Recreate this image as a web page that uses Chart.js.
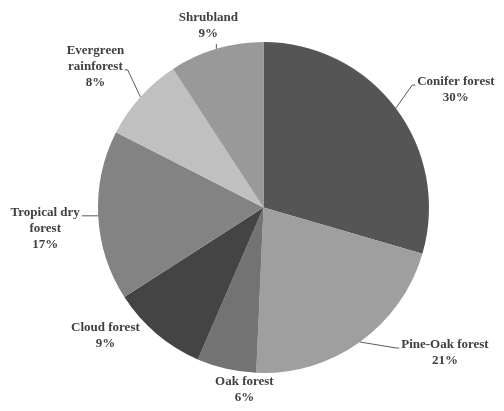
<!DOCTYPE html>
<html>
<head>
<meta charset="utf-8">
<script src="https://cdn.jsdelivr.net/npm/chart.js@4/dist/chart.umd.min.js"></script>
<style>
  html, body { margin: 0; padding: 0; background: #fff; }
  #wrap { width: 504px; height: 411px; }
</style>
</head>
<body>
<div id="wrap"><canvas id="chart" width="504" height="411"></canvas></div>
<script>
// data, clockwise from 12 o'clock (labels show rounded values)
const categories = ['Conifer forest', 'Pine-Oak forest', 'Oak forest', 'Cloud forest', 'Tropical dry forest', 'Evergreen rainforest', 'Shrubland'];
const shares = [29.5, 21.2, 5.8, 9.4, 16.6, 8.3, 9.2];
const labelLines = [
  ['Conifer forest'],
  ['Pine-Oak forest'],
  ['Oak forest'],
  ['Cloud forest'],
  ['Tropical dry', 'forest'],
  ['Evergreen', 'rainforest'],
  ['Shrubland']
];
const sliceColors = ['#555555', '#9f9f9f', '#737373', '#444444', '#838383', '#c0c0c0', '#999999'];

// where each label sits relative to the slice's outer mid point, and how the leader joins it
const labelStyle = [
  { dx: 60, dy: -18, leader: 'left', line: 0 },
  { dx: 85, dy: 11, leader: 'left', line: 0 },
  { dx: 18, dy: 21, leader: null },
  { dx: -51, dy: 2, leader: null },
  { dx: -53, dy: 13, leader: 'right', line: 0 },
  { dx: -45, dy: -30, leader: 'right', line: 1 },
  { dx: -8, dy: -23, leader: 'bottom' }
];

const FONT = 'bold 13px "Liberation Serif", "DejaVu Serif", serif';
const LINE_H = 16;

const outsideLabels = {
  id: 'outsideLabels',
  afterDatasetsDraw(chart) {
    const ctx = chart.ctx;
    const meta = chart.getDatasetMeta(0);
    ctx.save();
    ctx.font = FONT;
    ctx.textAlign = 'center';
    ctx.textBaseline = 'middle';
    meta.data.forEach((arc, i) => {
      const st = labelStyle[i];
      const mid = (arc.startAngle + arc.endAngle) / 2;
      const ex = arc.x + Math.cos(mid) * arc.outerRadius;
      const ey = arc.y + Math.sin(mid) * arc.outerRadius;
      const lines = labelLines[i].concat([Math.round(shares[i]) + '%']);
      const cx = ex + st.dx;
      const cy = ey + st.dy;
      const top = cy - (lines.length - 1) * LINE_H / 2;

      if (st.leader) {
        ctx.strokeStyle = '#595959';
        ctx.lineWidth = 1;
        ctx.beginPath();
        ctx.moveTo(ex, ey);
        if (st.leader === 'bottom') {
          const by = top + (lines.length - 1) * LINE_H + 8;
          ctx.lineTo(ex, by + 2);
        } else {
          const w = ctx.measureText(lines[st.line]).width;
          const ly = top + st.line * LINE_H + 3;
          if (st.leader === 'left') {
            const lx = cx - w / 2 - 2;
            ctx.lineTo(lx - 3, ly);
            ctx.lineTo(lx, ly);
          } else {
            const rx = cx + w / 2 + 2;
            ctx.lineTo(rx + 3, ly);
            ctx.lineTo(rx, ly);
          }
        }
        ctx.stroke();
      }

      ctx.fillStyle = '#404040';
      lines.forEach((t, k) => ctx.fillText(t, cx, top + k * LINE_H));
    });
    ctx.restore();
  }
};

new Chart(document.getElementById('chart'), {
  type: 'pie',
  data: {
    labels: categories,
    datasets: [{
      data: shares,
      backgroundColor: sliceColors,
      borderWidth: 0
    }]
  },
  options: {
    responsive: false,
    animation: false,
    layout: { padding: { top: 42, bottom: 38, left: 98, right: 75 } },
    plugins: {
      legend: { display: false },
      tooltip: { enabled: false }
    }
  },
  plugins: [outsideLabels]
});
</script>
</body>
</html>
